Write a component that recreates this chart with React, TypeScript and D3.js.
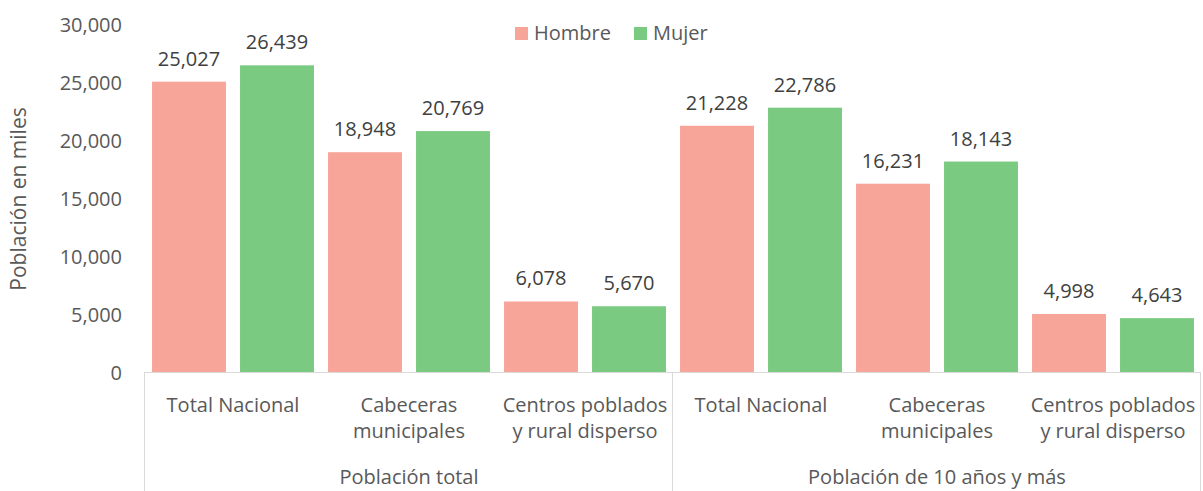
import React, { useEffect, useRef } from 'react';
import * as d3 from 'd3';

const width = 1203;
const height = 491;
const margin = { top: 24, right: 2, bottom: 119, left: 145 };

const groups = ['Población total', 'Población de 10 años y más'];
const categories = ['Total Nacional', 'Cabeceras municipales', 'Centros poblados y rural disperso'];
const categoryLines = [['Total Nacional'], ['Cabeceras', 'municipales'], ['Centros poblados', 'y rural disperso']];
const series = ['Hombre', 'Mujer'];
const hombre = [25027, 18948, 6078, 21228, 16231, 4998];
const mujer = [26439, 20769, 5670, 22786, 18143, 4643];
const yTicks = [0, 5000, 10000, 15000, 20000, 25000, 30000];

const colors: Record<string, string> = { Hombre: '#F7A499', Mujer: '#7BCA81' };
const font = '"Open Sans", Calibri, sans-serif';
const fs = 20;

const App = () => {
  const yAxisRef = useRef<SVGGElement>(null);

  const slots = groups.flatMap((g, gi) => categories.map((c, ci) => `${gi}-${ci}`));
  const x0 = d3.scaleBand().domain(slots).range([margin.left, width - margin.right]);
  const x1 = d3
    .scaleBand()
    .domain(series)
    .range([0, x0.bandwidth()])
    .paddingInner(0.16)
    .paddingOuter(0.08);
  const y = d3
    .scaleLinear()
    .domain([0, 30000])
    .range([372, margin.top]);

  const fmt = d3.format(',');
  const rows = slots.map((s, i) => ({ slot: s, Hombre: hombre[i], Mujer: mujer[i] }));
  const baseY = y(0);
  const groupWidth = x0.bandwidth() * categories.length;

  useEffect(() => {
    const axis = d3.axisLeft(y).tickValues(yTicks).tickSize(0).tickPadding(0).tickFormat(d => fmt(d as number));
    const g = d3.select(yAxisRef.current).call(axis);
    g.select('.domain').remove();
    g.selectAll('text')
      .attr('font-family', font)
      .attr('font-size', fs)
      .attr('fill', '#595959')
      .attr('dy', '0.35em');
  }, []);

  return (
    <svg width={width} height={height} style={{ position: 'absolute', left: 0, top: 0 }}>
      <rect width={width} height={height} fill="#fff" />
      <g ref={yAxisRef} transform={`translate(122, 0)`} />
      <text
        transform={`translate(26, ${(margin.top + baseY) / 2 + 1}) rotate(-90)`}
        textAnchor="middle"
        fontFamily={font}
        fontSize={21}
        fill="#595959"
      >
        Población en miles
      </text>

      {rows.map(r => (
        <g key={r.slot} transform={`translate(${x0(r.slot)}, 0)`}>
          {series.map(s => {
            const v = (r as any)[s] as number;
            return (
              <g key={s}>
                <rect
                  x={x1(s)}
                  y={y(v)}
                  width={x1.bandwidth()}
                  height={baseY - y(v)}
                  fill={colors[s]}
                />
                <text
                  x={(x1(s) as number) + x1.bandwidth() / 2}
                  y={y(v) - 16}
                  textAnchor="middle"
                  fontFamily={font}
                  fontSize={fs}
                  fill="#404040"
                >
                  {fmt(v)}
                </text>
              </g>
            );
          })}
        </g>
      ))}

      {/* category axis */}
      <line x1={margin.left} x2={width - margin.right} y1={baseY + 0.5} y2={baseY + 0.5} stroke="#d9d9d9" />
      {[0, 1, 2].map(i => {
        const xx = Math.round(margin.left + groupWidth * i) - 0.5;
        return <line key={i} x1={xx} x2={xx} y1={baseY} y2={height} stroke="#d9d9d9" />;
      })}
      {slots.map((s, i) => {
        const lines = categoryLines[i % 3];
        const cx = (x0(s) as number) + x0.bandwidth() / 2;
        return (
          <text key={s} textAnchor="middle" fontFamily={font} fontSize={fs} fill="#595959">
            {lines.map((l, li) => (
              <tspan key={li} x={cx} y={412 + li * 26}>
                {l}
              </tspan>
            ))}
          </text>
        );
      })}
      {groups.map((g, gi) => (
        <text
          key={g}
          x={margin.left + groupWidth * gi + groupWidth / 2}
          y={484}
          textAnchor="middle"
          fontFamily={font}
          fontSize={fs}
          fill="#595959"
        >
          {g}
        </text>
      ))}

      {/* legend */}
      {series.map((s, i) => {
        const lx = i === 0 ? 515 : 634;
        return (
          <g key={s} transform={`translate(${lx}, 27)`}>
            <rect width={13} height={13} fill={colors[s]} />
            <text x={19} y={13} fontFamily={font} fontSize={fs} fill="#595959">
              {s}
            </text>
          </g>
        );
      })}
    </svg>
  );
};

export default App;
